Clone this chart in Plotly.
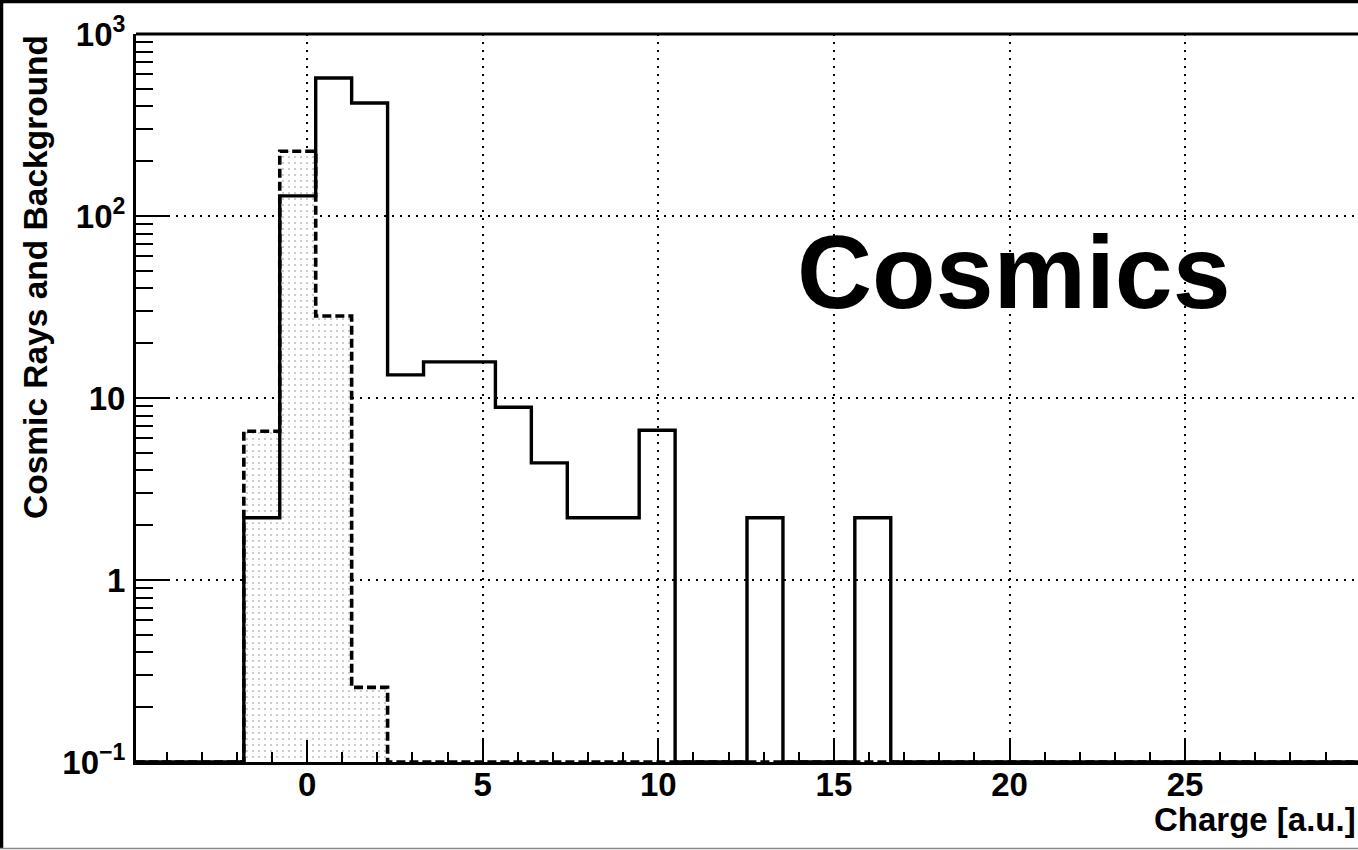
import plotly.graph_objects as go

# ---- data (histograms: 34 bins) ----
x_min = -4.87
bin_width = 1.0233
n_bins = 34
cosmics = [0, 0, 0, 2.2, 129, 573, 418, 13.4, 15.8, 15.8, 8.9, 4.4, 2.2, 2.2, 6.65,
           0, 0, 2.2, 0, 0, 2.2, 0, 0, 0, 0, 0, 0, 0, 0, 0, 0, 0, 0, 0]
background = [0, 0, 0, 6.57, 227, 28.2, 0.257, 0, 0, 0, 0, 0, 0, 0, 0,
              0, 0, 0, 0, 0, 0, 0, 0, 0, 0, 0, 0, 0, 0, 0, 0, 0, 0, 0]
x_tickvals = [0, 5, 10, 15, 20, 25]
y_tickvals = [0.1, 1, 10, 100, 1000]
y_ticktext = ["10<sup>−1</sup>", "1", "10", "10<sup>2</sup>", "10<sup>3</sup>"]
y_floor = 0.1

edges = [x_min + i * bin_width for i in range(n_bins + 1)]
centers = [x_min + (i + 0.5) * bin_width for i in range(n_bins)]


def outline(vals):
    ys = [max(v, y_floor) for v in vals]
    return edges, ys + [ys[-1]]


W, H = 1358, 850
L, R, T, B = 136, 0, 34, 88
pw, ph = W - L - R, H - T - B


def px2x(px):
    return (px - L) / pw


def py2y(py):
    return (H - B - py) / ph


FONT = "Liberation Sans, Arial, Helvetica, sans-serif"
FS = 33

fig = go.Figure()

# dotted fill of background histogram
fig.add_trace(go.Bar(
    x=centers, y=[v if v > 0 else None for v in background], width=bin_width,
    marker=dict(color="white", line=dict(width=0),
                pattern=dict(shape=".", fgcolor="black", bgcolor="white",
                             size=6, solidity=0.05)),
    showlegend=False, hoverinfo="skip"))

bx, by = outline(background)
fig.add_trace(go.Scatter(x=bx, y=by, mode="lines", line_shape="hv",
                         line=dict(color="black", width=3.6, dash="9px,4px"),
                         showlegend=False, hoverinfo="skip"))

cx, cy = outline(cosmics)
fig.add_trace(go.Scatter(x=cx, y=cy, mode="lines", line_shape="hv",
                         line=dict(color="black", width=3.4),
                         showlegend=False, hoverinfo="skip"))

fig.update_layout(
    width=W, height=H,
    margin=dict(l=L, r=R, t=T, b=B, pad=0),
    paper_bgcolor="white", plot_bgcolor="white",
    bargap=0,
    font=dict(family=FONT, color="black"),
    xaxis=dict(
        range=[edges[0], edges[-1]],
        tickmode="array", tickvals=x_tickvals,
        ticks="inside", ticklen=22, tickwidth=2, tickcolor="black",
        minor=dict(ticks="inside", ticklen=10, tickwidth=2, tickcolor="black",
                   dtick=1, tick0=0, showgrid=False),
        showgrid=True, gridcolor="black", gridwidth=2, griddash="2px,6px",
        showline=True, linecolor="black", linewidth=3,
        zeroline=False,
        tickfont=dict(family=FONT, size=FS, weight="bold", color="black"),
        ticklabelstandoff=-9,
    ),
    yaxis=dict(
        type="log", range=[-1, 3],
        tickmode="array", tickvals=y_tickvals, ticktext=y_ticktext,
        ticks="inside", ticklen=34, tickwidth=2, tickcolor="black",
        minor=dict(ticks="inside", ticklen=17, tickwidth=2, tickcolor="black",
                   dtick="D1", showgrid=False),
        showgrid=True, gridcolor="black", gridwidth=2, griddash="2px,6px",
        showline=True, linecolor="black", linewidth=3,
        zeroline=False,
        tickfont=dict(family=FONT, size=FS, weight="bold", color="black"),
        ticklabelstandoff=1,
    ),
    annotations=[
        dict(text="Cosmics", x=px2x(795), y=py2y(272), xref="paper", yref="paper",
             xanchor="left", yanchor="middle", showarrow=False,
             font=dict(family=FONT, size=104, weight="bold", color="black")),
        dict(text="Charge [a.u.]", x=1.0, y=py2y(819), xref="paper", yref="paper",
             xanchor="right", yanchor="middle", showarrow=False,
             font=dict(family=FONT, size=FS, weight="bold", color="black")),
        dict(text="Cosmic Rays and Background", textangle=-90,
             x=px2x(35), y=py2y(33), xref="paper", yref="paper",
             xanchor="center", yanchor="top", showarrow=False,
             font=dict(family=FONT, size=33.5, weight="bold", color="black")),
    ],
    shapes=[
        # top frame of plot area
        dict(type="line", xref="paper", yref="paper", x0=0, x1=1.01, y0=1, y1=1,
             line=dict(color="black", width=3)),
        # canvas border
        dict(type="line", xref="paper", yref="paper", x0=px2x(0), x1=px2x(1400),
             y0=py2y(1.5), y1=py2y(1.5), line=dict(color="black", width=3.5)),
        dict(type="line", xref="paper", yref="paper", x0=px2x(1.5), x1=px2x(1.5),
             y0=py2y(0), y1=py2y(848), line=dict(color="black", width=3.5)),
        dict(type="line", xref="paper", yref="paper", x0=px2x(0), x1=px2x(1400),
             y0=py2y(848.5), y1=py2y(848.5), line=dict(color="#888888", width=1.5)),
    ],
)

fig.write_html("out.html")
